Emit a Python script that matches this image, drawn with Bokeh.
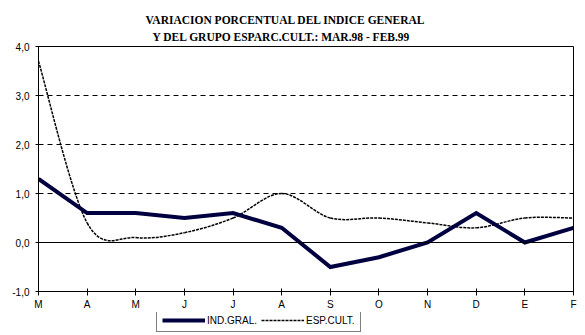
from bokeh.plotting import figure
from bokeh.layouts import column
from bokeh.models import Range1d, FixedTicker, Span, Title, Legend, LegendItem, ColumnDataSource
from bokeh.embed import file_html
from bokeh.resources import INLINE

months = ["M", "A", "M", "J", "J", "A", "S", "O", "N", "D", "E", "F"]
ind_gral = [1.3, 0.6, 0.6, 0.5, 0.6, 0.3, -0.5, -0.3, 0.0, 0.6, 0.0, 0.3]
esp_cult = [3.7, 0.4, 0.1, 0.2, 0.5, 1.0, 0.5, 0.5, 0.4, 0.3, 0.5, 0.5]
y_ticks = [-1, 0, 1, 2, 3, 4]
y_labels = ["-1,0", "0,0", "1,0", "2,0", "3,0", "4,0"]
title_lines = ["VARIACION PORCENTUAL DEL INDICE GENERAL",
               "Y DEL GRUPO ESPARC.CULT.: MAR.98 - FEB.99"]
series_names = ["IND.GRAL.", "ESP.CULT."]

NAVY = "#000040"
SANS = "Liberation Sans"
SERIF = "Liberation Serif"
ESP_COLOR = "#000000"
ESP_W = 1.5
ESP_DASH = "3 1"

xs = list(range(len(months)))

p = figure(width=585, height=312, output_backend="svg", toolbar_location=None,
           x_range=Range1d(0, len(months) - 1), y_range=Range1d(-1, 4),
           min_border_left=38, min_border_right=12, min_border_top=46, min_border_bottom=19)
p.background_fill_color = "white"
p.border_fill_color = "white"
p.outline_line_color = "black"
p.outline_line_width = 1

# axes
p.xaxis.ticker = FixedTicker(ticks=xs)
p.xaxis.major_label_overrides = {i: m for i, m in enumerate(months)}
p.xaxis.major_tick_in = 3
p.xaxis.major_tick_out = 4
p.xaxis.minor_tick_line_color = None
p.xaxis.axis_line_color = "black"
p.xaxis.major_label_text_font = SANS
p.xaxis.major_label_text_font_size = "10px"
p.xaxis.major_label_text_color = "black"
p.xaxis.major_label_standoff = 3

p.yaxis.ticker = FixedTicker(ticks=y_ticks)
p.yaxis.major_label_overrides = {t: l for t, l in zip(y_ticks, y_labels)}
p.yaxis.major_tick_in = 3
p.yaxis.major_tick_out = 3
p.yaxis.minor_tick_line_color = None
p.yaxis.major_label_text_font = SANS
p.yaxis.major_label_text_font_size = "10px"
p.yaxis.major_label_text_color = "black"
p.yaxis.major_label_standoff = 6

p.xgrid.grid_line_color = None
p.ygrid.ticker = FixedTicker(ticks=[0, 1, 2, 3])
p.ygrid.grid_line_color = "black"
p.ygrid.grid_line_dash = "5 4"
p.ygrid.grid_line_width = 1

p.add_layout(Span(location=0, dimension="width", line_color="black", line_width=1))

# smoothed ESP line (Catmull-Rom as cubic Bezier segments)
n = len(esp_cult)
seg = dict(x0=[], y0=[], x1=[], y1=[], cx0=[], cy0=[], cx1=[], cy1=[])
for i in range(n - 1):
    pm = esp_cult[max(i - 1, 0)]
    p0 = esp_cult[i]
    p1 = esp_cult[i + 1]
    p2 = esp_cult[min(i + 2, n - 1)]
    xm = xs[max(i - 1, 0)]
    x2 = xs[min(i + 2, n - 1)]
    seg["x0"].append(xs[i]); seg["y0"].append(p0)
    seg["x1"].append(xs[i + 1]); seg["y1"].append(p1)
    seg["cx0"].append(xs[i] + (xs[i + 1] - xm) / 6); seg["cy0"].append(p0 + (p1 - pm) / 6)
    seg["cx1"].append(xs[i + 1] - (x2 - xs[i]) / 6); seg["cy1"].append(p1 - (p2 - p0) / 6)

p.bezier(x0="x0", y0="y0", x1="x1", y1="y1", cx0="cx0", cy0="cy0", cx1="cx1", cy1="cy1",
         source=ColumnDataSource(seg), line_color=ESP_COLOR, line_width=ESP_W, line_dash=ESP_DASH)

p.line(xs, ind_gral, line_color=NAVY, line_width=4, line_join="miter")

# title (two lines); first added sits closest to the frame
for k in (1, 0):
    p.add_layout(Title(text=title_lines[k], text_font=SERIF, text_font_style="bold",
                       text_font_size="11.5px", align="left", offset=[107, 114][k],
                       text_color="black", standoff=[0, 7][k]), "above")

# legend strip below the chart
lg = figure(width=585, height=23, output_backend="svg", toolbar_location=None,
            x_axis_type=None, y_axis_type=None, x_range=Range1d(0, 1), y_range=Range1d(0, 1),
            min_border_left=0, min_border_right=0, min_border_top=0, min_border_bottom=0)
lg.outline_line_color = None
lg.grid.grid_line_color = None
lg.background_fill_color = "white"
lg.border_fill_color = "white"
# legend-only renderers, placed outside the visible range
r_ind = lg.line(x=[5, 6], y=[5, 5], line_color=NAVY, line_width=4)
r_esp = lg.line(x=[5, 6], y=[5, 5], line_color=ESP_COLOR, line_width=ESP_W, line_dash=ESP_DASH)
legend = Legend(items=[LegendItem(label=series_names[0], renderers=[r_ind]),
                       LegendItem(label=series_names[1], renderers=[r_esp])],
                orientation="horizontal", location=(118, 3),
                border_line_color="black", border_line_width=1, background_fill_alpha=1,
                label_text_font=SANS, label_text_font_size="10px", label_text_color="black",
                glyph_width=43, glyph_height=10, padding=5, spacing=4, margin=0,
                label_standoff=2, label_height=12)
lg.add_layout(legend)

layout = column(p, lg, spacing=0)
open("out.html", "w").write(file_html(layout, INLINE))
